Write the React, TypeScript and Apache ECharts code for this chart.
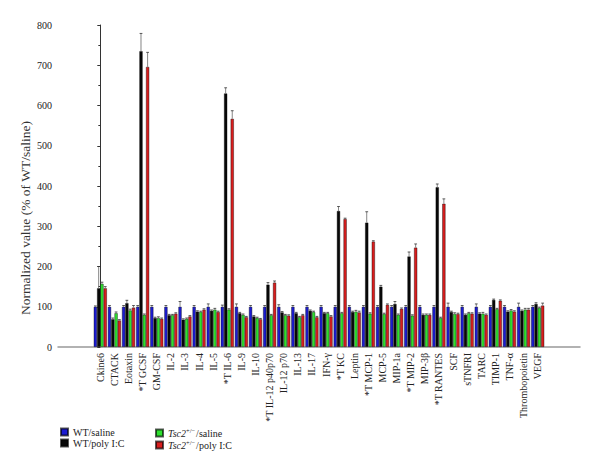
import React, { useEffect, useRef } from "react";
import * as echarts from "echarts";

const categories = [
  "Ckine6", "CTACK", "Eotaxin", "*T GCSF", "GM-CSF", "IL-2", "IL-3", "IL-4", "IL-5", "*T IL-6",
  "IL-9", "IL-10", "*T IL-12 p40p70", "IL-12 p70", "IL-13", "IL-17", "IFN-γ", "*T KC", "Leptin",
  "*T MCP-1", "MCP-5", "MIP-1a", "*T MIP-2", "MIP-3β", "*T RANTES", "SCF", "sTNFRI", "TARC",
  "TIMP-1", "TNF-α", "Thrombopoietin", "VEGF",
];

const seriesNames = ["WT/saline", "WT/poly I:C", "Tsc2+/−/saline", "Tsc2+/−/poly I:C"];

const wtSaline = [100, 100, 100, 100, 100, 100, 100, 100, 100, 100, 100, 100, 100, 100, 100, 100,
  100, 100, 100, 100, 100, 100, 100, 100, 100, 100, 100, 100, 100, 100, 100, 100];
const wtSalineErr = [2, 3, 3, 3, 3, 3, 13, 3, 7, 4, 7, 3, 3, 5, 3, 3, 3, 3, 3, 3, 3, 3, 3, 3, 3,
  9, 3, 7, 3, 3, 9, 3];

const wtPoly = [146, 69, 109, 735, 72, 79, 68, 88, 90, 630, 84, 76, 155, 86, 84, 90, 84, 338, 87,
  309, 150, 107, 225, 80, 397, 87, 80, 83, 117, 88, 90, 107];
const wtPolyErr = [54, 3, 7, 44, 2, 2, 2, 2, 2, 14, 2, 2, 5, 2, 2, 2, 2, 11, 2, 27, 3, 6, 11, 2, 8,
  2, 2, 2, 2, 2, 2, 3];

const tscSaline = [157, 84, 91, 80, 72, 79, 70, 87, 93, 93, 80, 72, 79, 79, 74, 87, 84, 84, 88, 83,
  82, 80, 78, 80, 72, 82, 84, 83, 94, 91, 93, 97];
const tscSalineErr = [4, 3, 3, 2, 3, 2, 2, 2, 3, 2, 2, 2, 2, 2, 2, 2, 2, 2, 3, 2, 2, 2, 2, 2, 2, 3,
  2, 3, 2, 2, 3, 2];

const tscPoly = [146, 66, 98, 696, 70, 83, 76, 93, 87, 567, 74, 69, 160, 78, 79, 74, 76, 318, 86,
  262, 105, 95, 247, 80, 356, 82, 83, 80, 115, 88, 93, 103];
const tscPolyErr = [4, 2, 5, 36, 2, 2, 2, 2, 2, 20, 2, 2, 4, 2, 2, 2, 2, 2, 3, 2, 2, 2, 9, 2, 12, 2,
  2, 2, 2, 2, 3, 6];

const yTicks = { min: 0, max: 800, interval: 100 };

const colors = ["#1c1cd2", "#080808", "#2ee02e", "#d81e1e"];
const FONT = "Liberation Serif";
const BAR_W = 3.3;

export default function App() {
  const ref = useRef<HTMLDivElement>(null);

  useEffect(() => {
    if (!ref.current) return;
    const chart = echarts.init(ref.current, null, { renderer: "svg" });

    const values = [wtSaline, wtPoly, tscSaline, tscPoly];
    const errs = [wtSalineErr, wtPolyErr, tscSalineErr, tscPolyErr];

    const barSeries = values.map((vals, k) => ({
      type: "bar",
      name: seriesNames[k],
      data: vals.map((v, i) => [i, v]),
      barWidth: BAR_W,
      barGap: "0%",
      itemStyle: {
        color: colors[k],
        borderColor: "rgba(0,0,0,0.65)",
        borderWidth: 0.6,
      },
      z: 2,
    }));

    const errSeries = values.map((vals, k) => ({
      type: "custom",
      name: seriesNames[k] + " err",
      data: vals.map((v, i) => [i, v, errs[k][i]]),
      encode: { x: 0, y: 1 },
      z: 3,
      silent: true,
      renderItem: (params: any, api: any) => {
        const x = api.value(0);
        const v = api.value(1);
        const e = api.value(2);
        const p0 = api.coord([x, v]);
        const p1 = api.coord([x, v + e]);
        const dx = (k - 1.5) * BAR_W;
        const cx = p0[0] + dx;
        return {
          type: "group",
          children: [
            {
              type: "line",
              shape: { x1: cx, y1: p0[1], x2: cx, y2: p1[1] },
              style: { stroke: "#666", lineWidth: 0.8 },
            },
            {
              type: "line",
              shape: { x1: cx - 1.4, y1: p1[1], x2: cx + 1.4, y2: p1[1] },
              style: { stroke: "#333", lineWidth: 0.8 },
            },
          ],
        };
      },
    }));

    const legendFormatter = (name: string) => {
      if (name.startsWith("Tsc2")) {
        return "{i|Tsc2}{s|+/−}{n|" + name.slice("Tsc2+/−".length) + "}";
      }
      return name;
    };
    const legendText = {
      fontFamily: FONT,
      fontSize: 10,
      color: "#222",
      rich: {
        i: { fontFamily: FONT, fontSize: 10, fontStyle: "italic", color: "#222" },
        s: { fontFamily: FONT, fontSize: 6.5, color: "#222", verticalAlign: "top", padding: [0, 1, 5, 0] },
        n: { fontFamily: FONT, fontSize: 10, color: "#222" },
      },
    };

    const option: any = {
      animation: false,
      backgroundColor: "#fff",
      grid: { left: 58, right: 20, top: 25, bottom: 124 },
      legend: [
        {
          data: [seriesNames[0], seriesNames[1]],
          orient: "vertical",
          left: 55,
          top: 422,
          itemWidth: 7,
          itemHeight: 7,
          itemGap: 1,
          icon: "rect",
          textStyle: legendText,
          formatter: legendFormatter,
        },
        {
          data: [seriesNames[2], seriesNames[3]],
          orient: "vertical",
          left: 150,
          top: 422,
          itemWidth: 7,
          itemHeight: 7,
          itemGap: 1,
          icon: "rect",
          textStyle: legendText,
          formatter: legendFormatter,
        },
      ],
      xAxis: {
        type: "value",
        min: -3,
        max: 34,
        interval: 1,
        splitLine: { show: false },
        axisTick: { show: false },
        axisLine: { show: true, lineStyle: { color: "#999", width: 1.5 } },
        axisLabel: {
          rotate: 90,
          fontFamily: FONT,
          fontSize: 10,
          color: "#222",
          margin: 6,
          formatter: (v: number) => (categories[v] !== undefined ? categories[v] : ""),
        },
      },
      yAxis: {
        type: "value",
        min: yTicks.min,
        max: yTicks.max,
        interval: yTicks.interval,
        name: "Normalized value (% of WT/saline)",
        nameLocation: "middle",
        nameGap: 26,
        nameMoveOverlap: false,
        nameTextStyle: { fontFamily: FONT, fontSize: 13.5, color: "#333", padding: [0, 64, 0, 0] },
        splitLine: { show: false },
        axisLine: { show: true, lineStyle: { color: "#333", width: 1 } },
        axisTick: { show: true, length: 3, lineStyle: { color: "#333" } },
        minorTick: { show: true, splitNumber: 2, length: 2, lineStyle: { color: "#333" } },
        axisLabel: { fontFamily: FONT, fontSize: 10, color: "#222", margin: 6 },
      },
      series: [...barSeries, ...errSeries],
    };

    chart.setOption(option);
    return () => chart.dispose();
  }, []);

  return (
    <div
      ref={ref}
      style={{ position: "fixed", left: 0, top: 0, width: 600, height: 471, background: "#fff" }}
    />
  );
}
